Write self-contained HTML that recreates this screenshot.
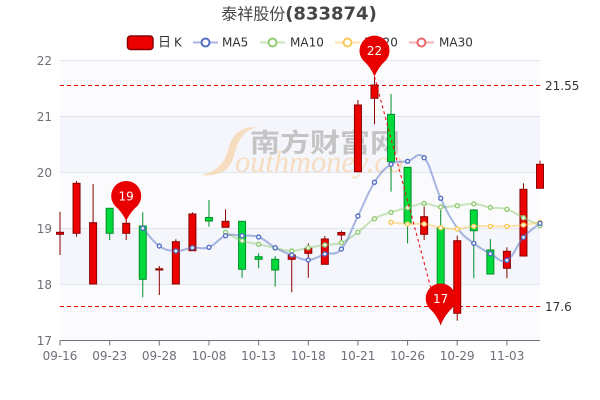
<!DOCTYPE html>
<html><head><meta charset="utf-8"><style>
html,body{margin:0;padding:0;background:#fff;}
svg{display:block;}
text{font-family:"DejaVu Sans","Liberation Sans","Noto Sans CJK SC",sans-serif;}
</style></head><body>
<svg width="600" height="400" viewBox="0 0 600 400" xmlns="http://www.w3.org/2000/svg">
<defs><clipPath id="wm"><rect x="190" y="110" width="212" height="80"/></clipPath></defs>
<!-- bands -->
<rect x="60" y="60.5" width="480" height="56" fill="#fbfbfd"/>
<rect x="60" y="116.5" width="480" height="56" fill="#f4f6fb"/>
<rect x="60" y="172.5" width="480" height="56" fill="#fbfbfd"/>
<rect x="60" y="228.5" width="480" height="56" fill="#f4f6fb"/>
<rect x="60" y="284.5" width="480" height="56" fill="#fbfbfd"/>
<g stroke="#e0e6f1" stroke-width="1">
<line x1="60" y1="60.5" x2="540" y2="60.5"/><line x1="60" y1="116.5" x2="540" y2="116.5"/>
<line x1="60" y1="172.5" x2="540" y2="172.5"/><line x1="60" y1="228.5" x2="540" y2="228.5"/>
<line x1="60" y1="284.5" x2="540" y2="284.5"/>
</g>
<!-- watermark -->
<path d="M201,175 C215,172 224,165 228,150 C232,135 239,127 257,127 C242,131 238,141 234,156 C230,170 220,177 201,175 Z" fill="#f6d8b4" opacity="0.85"/>
<text x="250" y="152" font-size="26" font-weight="bold" fill="#c4c4c4" textLength="150" lengthAdjust="spacingAndGlyphs" style="font-family:'Noto Sans CJK SC',sans-serif">南方财富网</text>
<g clip-path="url(#wm)"><text x="235" y="172" font-size="31" font-style="italic" fill="#f7dcbf" textLength="190" lengthAdjust="spacingAndGlyphs" style="font-family:'Liberation Serif',serif">outhmoney.com</text></g>
<!-- horizontal mark lines -->
<line x1="60" y1="85.5" x2="540" y2="85.5" stroke="#e00" stroke-width="1" stroke-dasharray="4,3"/>
<line x1="60" y1="306.5" x2="540" y2="306.5" stroke="#e00" stroke-width="1" stroke-dasharray="4,3"/>
<!-- axis -->
<line x1="60" y1="340.5" x2="540" y2="340.5" stroke="#6e7079" stroke-width="1"/>
<g stroke="#6e7079" stroke-width="1">
<line x1="60" y1="340.5" x2="60" y2="345.5"/><line x1="109.7" y1="340.5" x2="109.7" y2="345.5"/>
<line x1="159.3" y1="340.5" x2="159.3" y2="345.5"/><line x1="209" y1="340.5" x2="209" y2="345.5"/>
<line x1="258.6" y1="340.5" x2="258.6" y2="345.5"/><line x1="308.3" y1="340.5" x2="308.3" y2="345.5"/>
<line x1="357.9" y1="340.5" x2="357.9" y2="345.5"/><line x1="407.6" y1="340.5" x2="407.6" y2="345.5"/>
<line x1="457.2" y1="340.5" x2="457.2" y2="345.5"/><line x1="506.9" y1="340.5" x2="506.9" y2="345.5"/>
</g>
<g font-size="12" fill="#6e7079" text-anchor="middle">
<text x="60" y="360">09-16</text><text x="109.7" y="360">09-23</text><text x="159.3" y="360">09-28</text>
<text x="209" y="360">10-08</text><text x="258.6" y="360">10-13</text><text x="308.3" y="360">10-18</text>
<text x="357.9" y="360">10-21</text><text x="407.6" y="360">10-26</text><text x="457.2" y="360">10-29</text>
<text x="506.9" y="360">11-03</text>
</g>
<g font-size="12" fill="#6e7079" text-anchor="end">
<text x="52" y="65">22</text><text x="52" y="121">21</text><text x="52" y="177">20</text>
<text x="52" y="233">19</text><text x="52" y="289">18</text><text x="52" y="345">17</text>
</g>
<!-- candles -->
<g stroke-width="1">
<g stroke="#8a0000" fill="#ec0000">
<line x1="60" y1="211.7" x2="60" y2="255"/><rect x="56.5" y="232.3" width="7" height="2"/>
<line x1="76.55" y1="181" x2="76.55" y2="236.7"/><rect x="73.05" y="183.3" width="7" height="50"/>
<line x1="93.1" y1="184" x2="93.1" y2="284"/><rect x="89.6" y="222.7" width="7" height="61.3"/>
<line x1="126.21" y1="220" x2="126.21" y2="240"/><rect x="122.71" y="223.3" width="7" height="10"/>
<line x1="159.31" y1="266" x2="159.31" y2="295"/><rect x="155.81" y="268.8" width="7" height="1.2"/>
<line x1="175.86" y1="239.3" x2="175.86" y2="284"/><rect x="172.36" y="241.7" width="7" height="42.3"/>
<line x1="192.42" y1="212.3" x2="192.42" y2="250.7"/><rect x="188.92" y="214" width="7" height="36.7"/>
<line x1="225.52" y1="209.3" x2="225.52" y2="227.3"/><rect x="222.02" y="221.3" width="7" height="6"/>
<line x1="291.73" y1="255" x2="291.73" y2="292.3"/><rect x="288.23" y="255" width="7" height="4.3"/>
<line x1="308.28" y1="243.3" x2="308.28" y2="277.7"/><rect x="304.78" y="248.3" width="7" height="5"/>
<line x1="324.83" y1="236" x2="324.83" y2="264.3"/><rect x="321.33" y="239" width="7" height="25.3"/>
<line x1="341.38" y1="230.7" x2="341.38" y2="240"/><rect x="337.88" y="232.5" width="7" height="2.5"/>
<line x1="357.94" y1="100" x2="357.94" y2="171.7"/><rect x="354.44" y="105" width="7" height="66.7"/>
<line x1="374.49" y1="76.7" x2="374.49" y2="124.3"/><rect x="370.99" y="85" width="7" height="13.3"/>
<line x1="424.14" y1="206.7" x2="424.14" y2="240"/><rect x="420.64" y="216.7" width="7" height="17.6"/>
<line x1="457.25" y1="235.7" x2="457.25" y2="320.7"/><rect x="453.75" y="240.7" width="7" height="72.6"/>
<line x1="506.9" y1="247.3" x2="506.9" y2="278.3"/><rect x="503.4" y="251.3" width="7" height="17"/>
<line x1="523.46" y1="183.3" x2="523.46" y2="256"/><rect x="519.96" y="189.3" width="7" height="66.7"/>
<line x1="540.01" y1="160.7" x2="540.01" y2="188.3"/><rect x="536.51" y="164.3" width="7" height="24"/>
</g>
<g stroke="#008f28" fill="#00da3c">
<line x1="109.66" y1="208.3" x2="109.66" y2="240"/><rect x="106.16" y="208.3" width="7" height="25"/>
<line x1="142.76" y1="212.3" x2="142.76" y2="297.3"/><rect x="139.26" y="226" width="7" height="53.3"/>
<line x1="208.97" y1="200" x2="208.97" y2="226.7"/><rect x="205.47" y="217.5" width="7" height="3.5"/>
<line x1="242.07" y1="221.3" x2="242.07" y2="277.7"/><rect x="238.57" y="221.3" width="7" height="48"/>
<line x1="258.62" y1="253.3" x2="258.62" y2="268.3"/><rect x="255.12" y="256.7" width="7" height="2.6"/>
<line x1="275.18" y1="256" x2="275.18" y2="286.7"/><rect x="271.68" y="259.3" width="7" height="10.7"/>
<line x1="391.04" y1="94" x2="391.04" y2="191.7"/><rect x="387.54" y="114.3" width="7" height="47.4"/>
<line x1="407.59" y1="167.3" x2="407.59" y2="243.3"/><rect x="404.09" y="167.3" width="7" height="56"/>
<line x1="440.7" y1="210" x2="440.7" y2="325"/><rect x="437.2" y="227.7" width="7" height="56.3"/>
<line x1="473.8" y1="209" x2="473.8" y2="278.3"/><rect x="470.3" y="210" width="7" height="20.7"/>
<line x1="490.35" y1="239" x2="490.35" y2="274"/><rect x="486.85" y="250" width="7" height="24"/>
</g>
</g>
<!-- MA lines -->
<polyline class="sm" fill="none" stroke="#91cc75" stroke-width="2" stroke-opacity="0.5" stroke-linejoin="round" points="225.52,232.3 242.07,240.7 258.62,244.3 275.18,248 291.73,251 308.28,247.7 324.83,245 341.38,242.7 357.94,232.3 374.49,218.7 391.04,212.3 407.59,207.7 424.14,203.5 440.7,207 457.25,205.7 473.8,203.8 490.35,207.5 506.9,209.3 523.46,217.7 540.01,225.5"/>
<polyline class="sm" fill="none" stroke="#fac858" stroke-width="2" stroke-opacity="0.5" stroke-linejoin="round" points="391.04,222.3 407.59,224 424.14,224 440.7,227.7 457.25,229 473.8,226.3 490.35,226.3 506.9,226.3 523.46,225 540.01,222.3"/>
<polyline class="sm" fill="none" stroke="#5470c6" stroke-width="2" stroke-opacity="0.5" stroke-linejoin="round" points="142.76,228.3 159.31,246 175.86,251 192.42,247.7 208.97,247.3 225.52,235.7 242.07,235.7 258.62,237 275.18,247.7 291.73,255 308.28,260 324.83,254 341.38,249 357.94,216 374.49,182.3 391.04,164.3 407.59,161.3 424.14,157.7 440.7,198.3 457.25,228 473.8,243.3 490.35,253.7 506.9,260.3 523.46,237.3 540.01,223.3"/>
<g fill="#fff" stroke-width="1.4">
<g stroke="#91cc75">
<circle cx="225.52" cy="232.3" r="2"/><circle cx="242.07" cy="240.7" r="2"/><circle cx="258.62" cy="244.3" r="2"/><circle cx="275.18" cy="248" r="2"/><circle cx="291.73" cy="251" r="2"/><circle cx="308.28" cy="247.7" r="2"/><circle cx="324.83" cy="245" r="2"/><circle cx="341.38" cy="242.7" r="2"/><circle cx="357.94" cy="232.3" r="2"/><circle cx="374.49" cy="218.7" r="2"/><circle cx="391.04" cy="212.3" r="2"/><circle cx="407.59" cy="207.7" r="2"/><circle cx="424.14" cy="203.5" r="2"/><circle cx="440.7" cy="207" r="2"/><circle cx="457.25" cy="205.7" r="2"/><circle cx="473.8" cy="203.8" r="2"/><circle cx="490.35" cy="207.5" r="2"/><circle cx="506.9" cy="209.3" r="2"/><circle cx="523.46" cy="217.7" r="2"/><circle cx="540.01" cy="225.5" r="2"/>
</g>
<g stroke="#fac858">
<circle cx="391.04" cy="222.3" r="2"/><circle cx="407.59" cy="224" r="2"/><circle cx="424.14" cy="224" r="2"/><circle cx="440.7" cy="227.7" r="2"/><circle cx="457.25" cy="229" r="2"/><circle cx="473.8" cy="226.3" r="2"/><circle cx="490.35" cy="226.3" r="2"/><circle cx="506.9" cy="226.3" r="2"/><circle cx="523.46" cy="225" r="2"/><circle cx="540.01" cy="222.3" r="2"/>
</g>
<g stroke="#5470c6">
<circle cx="142.76" cy="228.3" r="2"/><circle cx="159.31" cy="246" r="2"/><circle cx="175.86" cy="251" r="2"/><circle cx="192.42" cy="247.7" r="2"/><circle cx="208.97" cy="247.3" r="2"/><circle cx="225.52" cy="235.7" r="2"/><circle cx="242.07" cy="235.7" r="2"/><circle cx="258.62" cy="237" r="2"/><circle cx="275.18" cy="247.7" r="2"/><circle cx="291.73" cy="255" r="2"/><circle cx="308.28" cy="260" r="2"/><circle cx="324.83" cy="254" r="2"/><circle cx="341.38" cy="249" r="2"/><circle cx="357.94" cy="216" r="2"/><circle cx="374.49" cy="182.3" r="2"/><circle cx="391.04" cy="164.3" r="2"/><circle cx="407.59" cy="161.3" r="2"/><circle cx="424.14" cy="157.7" r="2"/><circle cx="440.7" cy="198.3" r="2"/><circle cx="473.8" cy="243.3" r="2"/><circle cx="490.35" cy="253.7" r="2"/><circle cx="506.9" cy="260.3" r="2"/><circle cx="523.46" cy="237.3" r="2"/><circle cx="540.01" cy="223.3" r="2"/>
</g>
</g>
<!-- diagonal mark line -->
<line x1="374.5" y1="76.5" x2="440.7" y2="325" stroke="#e00" stroke-width="1" stroke-dasharray="3,3"/>
<!-- mark line labels -->
<text x="545" y="90" font-size="12" fill="#333">21.55</text>
<text x="545" y="311" font-size="12" fill="#333">17.6</text>
<!-- title -->
<text x="299" y="19.5" text-anchor="middle" fill="#464646"><tspan font-size="16" style="font-family:'Noto Sans CJK SC',sans-serif">泰祥股份</tspan><tspan font-size="18" font-weight="bold">(833874)</tspan></text>
<!-- legend -->
<rect x="127.5" y="36" width="25.5" height="13.5" rx="3" fill="#ec0000" stroke="#8a0000" stroke-width="1.5"/>
<text x="158" y="46.5" font-size="13" fill="#333" style="font-family:'Noto Sans CJK SC',sans-serif">日</text>
<text x="174" y="46.5" font-size="12" fill="#333">K</text>
<line x1="193" y1="42.5" x2="218" y2="42.5" stroke="#5470c6" stroke-opacity="0.5" stroke-width="2"/>
<circle cx="205.5" cy="42.5" r="4" fill="#fff" stroke="#5470c6" stroke-width="2"/>
<text x="222" y="46.5" font-size="12" fill="#333">MA5</text>
<line x1="260" y1="42.5" x2="285" y2="42.5" stroke="#91cc75" stroke-opacity="0.5" stroke-width="2"/>
<circle cx="272.5" cy="42.5" r="4" fill="#fff" stroke="#91cc75" stroke-width="2"/>
<text x="290" y="46.5" font-size="12" fill="#333">MA10</text>
<line x1="335" y1="42.5" x2="360" y2="42.5" stroke="#fac858" stroke-opacity="0.5" stroke-width="2"/>
<circle cx="347.5" cy="42.5" r="4" fill="#fff" stroke="#fac858" stroke-width="2"/>
<text x="364" y="46.5" font-size="12" fill="#333">MA20</text>
<line x1="409" y1="42.5" x2="434" y2="42.5" stroke="#ee6666" stroke-opacity="0.5" stroke-width="2"/>
<circle cx="421.5" cy="42.5" r="4" fill="#fff" stroke="#ee6666" stroke-width="2"/>
<text x="439" y="46.5" font-size="12" fill="#333">MA30</text>
<!-- pins -->
<path d="M126.2,221 Q122.2,212 114.7,205.6 A15,15 0 1 1 137.7,205.6 Q130.2,212 126.2,221 Z" fill="#e80000"/>
<text x="126.2" y="200.5" text-anchor="middle" font-size="12" fill="#fff">19</text>
<path d="M374.5,76.5 Q370.5,67 363,60.3 A15,15 0 1 1 386,60.3 Q378.5,67 374.5,76.5 Z" fill="#e80000"/>
<text x="374.5" y="55.2" text-anchor="middle" font-size="12" fill="#fff">22</text>
<path d="M440.7,325 Q436.7,315 429.2,308.1 A15,15 0 1 1 452.2,308.1 Q444.7,315 440.7,325 Z" fill="#e80000"/>
<text x="440.7" y="303" text-anchor="middle" font-size="12" fill="#fff">17</text>
</svg>
<script>
document.querySelectorAll('polyline.sm').forEach(function(pl){
var pts=pl.getAttribute('points').trim().split(/\s+/).map(function(s){return s.split(',').map(Number);});
var d='M'+pts[0][0]+','+pts[0][1];var t=0.2;
for(var i=0;i<pts.length-1;i++){var p0=pts[i-1]||pts[i],p1=pts[i],p2=pts[i+1],p3=pts[i+2]||p2;
var c1=[p1[0]+(p2[0]-p0[0])*t,p1[1]+(p2[1]-p0[1])*t];var c2=[p2[0]-(p3[0]-p1[0])*t,p2[1]-(p3[1]-p1[1])*t];
d+='C'+c1[0]+','+c1[1]+' '+c2[0]+','+c2[1]+' '+p2[0]+','+p2[1];}
var p=document.createElementNS('http://www.w3.org/2000/svg','path');p.setAttribute('d',d);
['stroke','stroke-width','fill','stroke-opacity','stroke-linejoin'].forEach(function(a){if(pl.getAttribute(a))p.setAttribute(a,pl.getAttribute(a));});
pl.parentNode.replaceChild(p,pl);});
</script>
</body></html>
